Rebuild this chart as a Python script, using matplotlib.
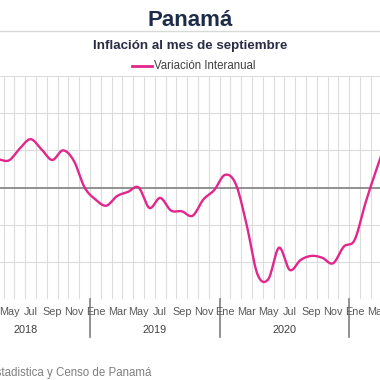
import matplotlib
import numpy as np

matplotlib.use("Agg")
import matplotlib.pyplot as plt

# Variacion interanual del IPC, abril 2018 - abril 2021
start_idx = 3  # months counted from Jan 2018 (Apr 2018 = 3)
values = [
    0.76, 0.73, 1.05, 1.30, 1.03, 0.74, 1.00, 0.72, 0.00,  # 2018 Apr-Dec
    -0.32, -0.49, -0.23, -0.12, 0.00, -0.55, -0.28, -0.62, -0.64, -0.76, -0.32, -0.07,  # 2019
    0.34, 0.09, -1.00, -2.33, -2.47, -1.62, -2.22, -1.95, -1.84, -1.89, -2.04, -1.59,  # 2020
    -1.41, -0.42, 0.47, 1.30,  # 2021 Jan-Apr
]
month_names = ["Ene", "Feb", "Mar", "Abr", "May", "Jun",
               "Jul", "Ago", "Sep", "Oct", "Nov", "Dic"]
years = ["2018", "2019", "2020", "2021"]

LINE_COLOR = "#e3268c"
W, H = 380, 380


def catmull_rom(x, y, n=24):
    """Smooth line through the points, like an Excel smoothed line."""
    x = np.asarray(x, float)
    y = np.asarray(y, float)
    px = np.concatenate([[2 * x[0] - x[1]], x, [2 * x[-1] - x[-2]]])
    py = np.concatenate([[2 * y[0] - y[1]], y, [2 * y[-1] - y[-2]]])
    t = np.linspace(0, 1, n, endpoint=False)
    xs, ys = [], []
    for i in range(1, len(px) - 2):
        for p, out in ((px, xs), (py, ys)):
            p0, p1, p2, p3 = p[i - 1], p[i], p[i + 1], p[i + 2]
            out.append(0.5 * (2 * p1 + (-p0 + p2) * t
                              + (2 * p0 - 5 * p1 + 4 * p2 - p3) * t ** 2
                              + (-p0 + 3 * p1 - 3 * p2 + p3) * t ** 3))
    xs.append([x[-1]])
    ys.append([y[-1]])
    return np.concatenate(xs), np.concatenate(ys)


fig = plt.figure(figsize=(W / 100, H / 100), dpi=100)
plot_top, plot_bot = 76, 299
ax = fig.add_axes([0, (H - plot_bot) / H, 1, (plot_bot - plot_top) / H])

xpos = np.arange(len(values)) + start_idx + 0.5
sx, sy = catmull_rom(xpos, values)
ax.plot(sx, sy, color=LINE_COLOR, lw=1.7, zorder=3, solid_capstyle="round")

ax.set_xlim(3.667, 38.85)
ax.set_ylim(-3, 3)

# grid: month boundaries and integer levels
for m in range(0, 40):
    ax.axvline(m, color="#dcdcdc", lw=0.8, zorder=1)
for v in range(-3, 4):
    if v == 0:
        ax.axhline(0, color="#7f7f7f", lw=1.2, zorder=2)
    else:
        ax.axhline(v, color="#dcdcdc", lw=0.8, zorder=1)

ax.set_xticks([])
ax.set_yticks([])
for s in ax.spines.values():
    s.set_visible(False)

trans = ax.get_xaxis_transform()
axh = plot_bot - plot_top
for m in range(0, 40):
    if m % 2 == 0:
        ax.text(m + 0.5, -(312 - plot_bot) / axh, month_names[m % 12],
                transform=trans, ha="center", va="center", fontsize=7.8,
                color="#595959", family="Liberation Sans", clip_on=False)
for k, yr in enumerate(years):
    ax.text(12 * k + 6, -(330 - plot_bot) / axh, yr, transform=trans,
            ha="center", va="center", fontsize=7.8, color="#404040",
            family="Liberation Sans", clip_on=False)
    if k > 0:
        ax.plot([12 * k, 12 * k], [0, -(337 - plot_bot) / axh], transform=trans,
                color="#7f7f7f", lw=1.2, clip_on=False)

# header
fig.text(0.5, 1 - 20 / H, "Panamá", ha="center", va="center", fontsize=16,
         fontweight="bold", color="#1c2b48", family="Liberation Sans")
fig.add_artist(plt.Line2D([0, 1], [1 - 31 / H] * 2, color="#d9d9d9", lw=1))
fig.text(0.5, 1 - 46 / H, "Inflación al mes de septiembre", ha="center",
         va="center", fontsize=9.6, fontweight="bold", color="#2a2d45",
         family="Liberation Sans")
fig.add_artist(plt.Line2D([132 / W, 152 / W], [1 - 66 / H] * 2,
                          color=LINE_COLOR, lw=2))
fig.text(154 / W, 1 - 66 / H, "Variación Interanual", ha="left", va="center",
         fontsize=8.3, color="#404040", family="Liberation Sans")

fig.text(151 / W, 1 - 373 / H, "Fuente: Instituto Nacional de Estadistica y Censo de Panamá",
         ha="right", va="center", fontsize=8.3, color="#7f7f7f",
         family="Liberation Sans")

fig.savefig("out.png", dpi=100)
